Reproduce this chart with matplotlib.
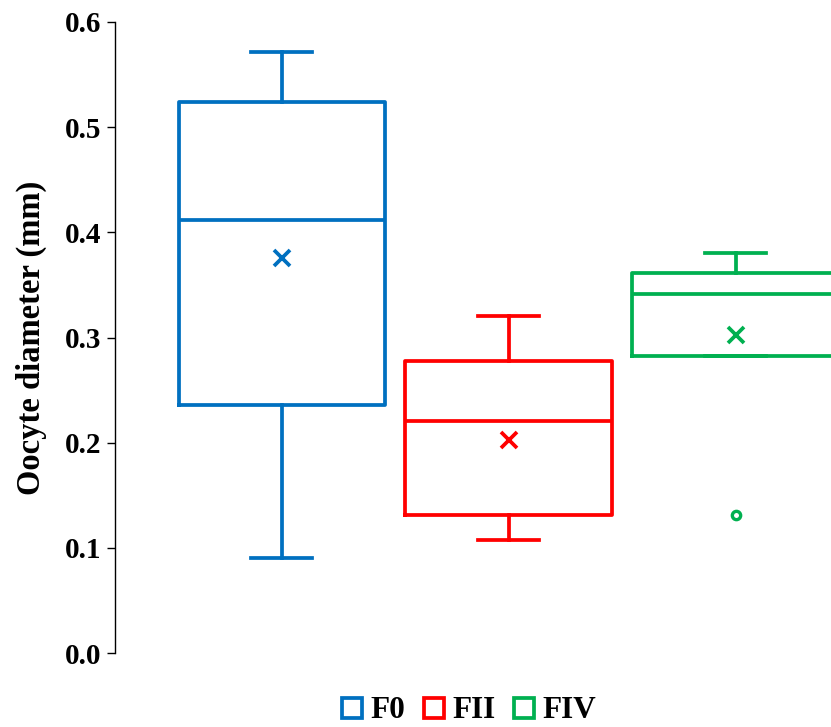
import matplotlib
matplotlib.use("Agg")
import matplotlib.pyplot as plt
from matplotlib.lines import Line2D

plt.rcParams['font.family'] = ['Liberation Serif', 'DejaVu Serif']
plt.rcParams['font.weight'] = 'bold'

# values
groups = ["F0", "FII", "FIV"]
colors = ["#0070c0", "#ff0000", "#00b050"]
whislo = [0.090, 0.107, 0.282]
q1 = [0.236, 0.131, 0.282]
med = [0.412, 0.221, 0.341]
q3 = [0.524, 0.278, 0.361]
whishi = [0.571, 0.320, 0.380]
means = [0.376, 0.203, 0.302]
fliers = [[], [], [0.131]]

stats = []
for i in range(len(groups)):
    stats.append(dict(label=groups[i], whislo=whislo[i], q1=q1[i], med=med[i],
                      q3=q3[i], whishi=whishi[i], mean=means[i], fliers=fliers[i]))

fig = plt.figure(figsize=(8.31, 7.27), dpi=100)
ax = fig.add_axes([115/831, 1 - 653/727, 1 - 115/831, (653 - 22)/727])

lw = 2.7
for i, s in enumerate(stats):
    c = colors[i]
    ax.bxp([s], positions=[i], widths=0.91, showmeans=True, meanline=False,
           showfliers=True, patch_artist=False,
           boxprops=dict(color=c, linewidth=lw),
           whiskerprops=dict(color=c, linewidth=lw),
           capprops=dict(color=c, linewidth=lw),
           medianprops=dict(color=c, linewidth=lw),
           meanprops=dict(marker='x', markeredgecolor=c, markersize=11, markeredgewidth=2.7),
           flierprops=dict(marker='o', markerfacecolor='none', markeredgecolor=c,
                           markersize=6, markeredgewidth=2.4),
           capwidths=0.27)

ax.set_xlim(-0.735, 2.42)
ax.set_ylim(0, 0.6)
ax.set_yticks([0.0, 0.1, 0.2, 0.3, 0.4, 0.5, 0.6])
ax.set_yticklabels(["0.0", "0.1", "0.2", "0.3", "0.4", "0.5", "0.6"])
ax.tick_params(axis='y', labelsize=21, length=6, width=1, pad=4)
ax.set_xticks([])
for sp in ['top', 'right', 'bottom']:
    ax.spines[sp].set_visible(False)
ax.spines['left'].set_linewidth(1)
for lab in ax.get_yticklabels():
    lab.set_fontweight('bold')
ax.set_ylabel("Oocyte diameter (mm)", fontsize=23.5, fontweight='bold', labelpad=13)

handles = [Line2D([], [], linestyle='none', marker='s', markersize=14.5,
                  markerfacecolor='none', markeredgecolor=c, markeredgewidth=2.7)
           for c in colors]
fig.legend(handles, groups, loc='center', bbox_to_anchor=(467/831, 1 - 711/727),
           ncol=3, frameon=False, prop=dict(size=22.5, weight='bold'),
           handletextpad=0.15, columnspacing=0.45, handlelength=0.9)

fig.savefig("out.png", dpi=100)
